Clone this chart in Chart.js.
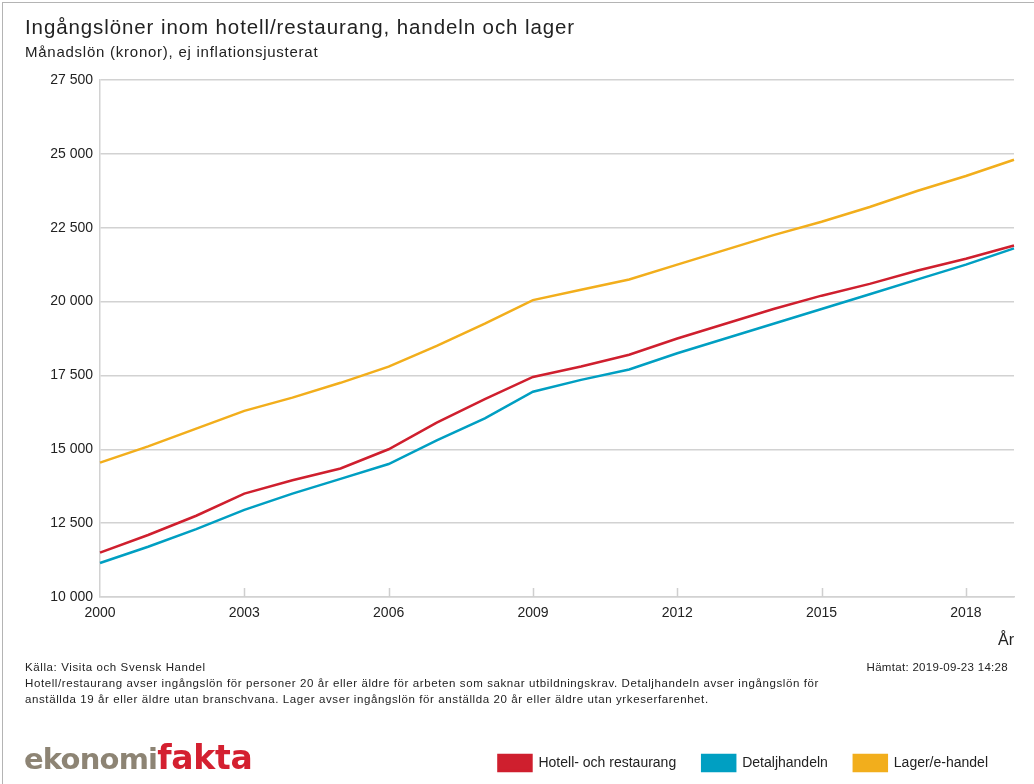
<!DOCTYPE html>
<html>
<head>
<meta charset="utf-8">
<script src="https://cdn.jsdelivr.net/npm/chart.js@4"></script>
<style>
body { margin: 0; background: #fff; font-family: "Liberation Sans", Arial, sans-serif; color: #222; }
#wrap { position: relative; width: 1034px; height: 784px; overflow: hidden; }
#frame { position: absolute; left: 2px; top: 2px; width: 1100px; height: 900px; border-left: 1px solid #b4b4b4; border-top: 1px solid #b4b4b4; }
canvas { position: absolute; left: 0; top: 0; }
.t { position: absolute; white-space: nowrap; }
#title { left: 25px; top: 17px; font-size: 20.5px; line-height: 20px; letter-spacing: 0.9px; }
#sub { left: 25px; top: 44px; font-size: 15px; line-height: 15px; letter-spacing: 0.75px; }
#notes { left: 25px; top: 659px; font-size: 11.5px; line-height: 16px; letter-spacing: 0.6px; }
#fetched { right: 26px; top: 659px; font-size: 11.5px; line-height: 16px; letter-spacing: 0.3px; }
#logo { left: 24px; top: 738px; font-family: "DejaVu Sans", sans-serif; font-weight: bold; line-height: 40px; }
#logo .a { color: #8d8474; font-size: 29px; letter-spacing: -0.8px; }
#logo .b { color: #d42030; font-size: 33px; letter-spacing: -0.3px; }
</style>
</head>
<body>
<div id="wrap">
  <div id="frame"></div>
  <canvas id="chart" width="1034" height="784"></canvas>
  <div class="t" id="title">Ingångslöner inom hotell/restaurang, handeln och lager</div>
  <div class="t" id="sub">Månadslön (kronor), ej inflationsjusterat</div>
  <div class="t" id="notes">Källa: Visita och Svensk Handel<br>Hotell/restaurang avser ingångslön för personer 20 år eller äldre för arbeten som saknar utbildningskrav. Detaljhandeln avser ingångslön för<br>anställda 19 år eller äldre utan branschvana. Lager avser ingångslön för anställda 20 år eller äldre utan yrkeserfarenhet.</div>
  <div class="t" id="fetched">Hämtat: 2019-09-23 14:28</div>
  <div class="t" id="logo"><span class="a">ekonomi</span><span class="b">fakta</span></div>
</div>
<script>
// Years on the x axis
const years = [2000, 2001, 2002, 2003, 2004, 2005, 2006, 2007, 2008, 2009,
               2010, 2011, 2012, 2013, 2014, 2015, 2016, 2017, 2018, 2019];

// Monthly starting wages (kronor)
const hotellRestaurang = [11500, 12100, 12750, 13500, 13950, 14350, 15000, 15900, 16700, 17450,
                          17800, 18200, 18750, 19250, 19750, 20200, 20600, 21050, 21450, 21900];
const detaljhandeln = [11150, 11700, 12300, 12950, 13500, 14000, 14500, 15300, 16050, 16950,
                       17350, 17700, 18250, 18750, 19250, 19750, 20250, 20750, 21250, 21800];
const lagerEhandel = [14550, 15100, 15700, 16300, 16750, 17250, 17800, 18500, 19250, 20050,
                      20400, 20750, 21250, 21750, 22250, 22700, 23200, 23750, 24250, 24800];

const seriesNames = ['Hotell- och restaurang', 'Detaljhandeln', 'Lager/e-handel'];
const seriesColors = ['#cf1f2e', '#009fc2', '#f2ae1c'];

const yMin = 10000, yMax = 27500, yStep = 2500;
const labelEvery = 3;

// small tick marks pointing up into the plot at labelled years
const innerTicks = {
    id: 'innerTicks',
    beforeDatasetsDraw(chart) {
        const x = chart.scales.x;
        const ctx = chart.ctx;
        const bottom = chart.chartArea.bottom;
        ctx.save();
        ctx.strokeStyle = '#cfcfcf';
        ctx.lineWidth = 1.5;
        years.forEach((yr, i) => {
            if (i % labelEvery !== 0 || i === 0) return;
            const px = Math.round(x.getPixelForValue(i)) + 0.5;
            ctx.beginPath();
            ctx.moveTo(px, bottom - 9);
            ctx.lineTo(px, bottom);
            ctx.stroke();
        });
        ctx.restore();
    }
};

function fmt(v) {
    return String(v).replace(/\B(?=(\d{3})+(?!\d))/g, ' ');
}

const allSeries = [hotellRestaurang, detaljhandeln, lagerEhandel];

new Chart(document.getElementById('chart').getContext('2d'), {
    type: 'line',
    data: {
        labels: years,
        datasets: allSeries.map((d, i) => ({
            label: seriesNames[i],
            data: d,
            borderColor: seriesColors[i],
            backgroundColor: seriesColors[i],
            borderWidth: 2.5,
            pointRadius: 0,
            tension: 0
        }))
    },
    options: {
        responsive: false,
        animation: false,
        layout: { padding: { top: 80, right: 20, bottom: 3, left: 0 } },
        scales: {
            x: {
                grid: { drawOnChartArea: false, drawTicks: false },
                border: { display: true, color: '#d2d2d2', width: 1.5 },
                ticks: {
                    autoSkip: false,
                    maxRotation: 0,
                    padding: 8,
                    color: '#222',
                    font: { family: 'Liberation Sans', size: 14 },
                    callback: (v, i) => (i % labelEvery === 0 && i < years.length - 1) ? years[i] : ''
                },
                title: {
                    display: true,
                    text: 'År',
                    align: 'end',
                    color: '#222',
                    font: { family: 'Liberation Sans', size: 16 },
                    padding: { top: 0, bottom: 79 }
                },
                afterFit: s => { s.height = 132; }
            },
            y: {
                min: yMin,
                max: yMax,
                grid: { color: '#d2d2d2', lineWidth: 1.5, drawTicks: false },
                border: { display: true, color: '#d2d2d2', width: 1.5 },
                ticks: {
                    stepSize: yStep,
                    padding: 7,
                    color: '#222',
                    font: { family: 'Liberation Sans', size: 14 },
                    callback: v => fmt(v)
                },
                afterFit: s => { s.width = 100; }
            }
        },
        plugins: {
            legend: {
                position: 'bottom',
                align: 'end',
                labels: {
                    boxWidth: 33,
                    boxHeight: 16,
                    padding: 26,
                    color: '#222',
                    font: { family: 'Liberation Sans', size: 14 }
                }
            },
            tooltip: { enabled: false }
        }
    },
    plugins: [innerTicks]
});
</script>
</body>
</html>
